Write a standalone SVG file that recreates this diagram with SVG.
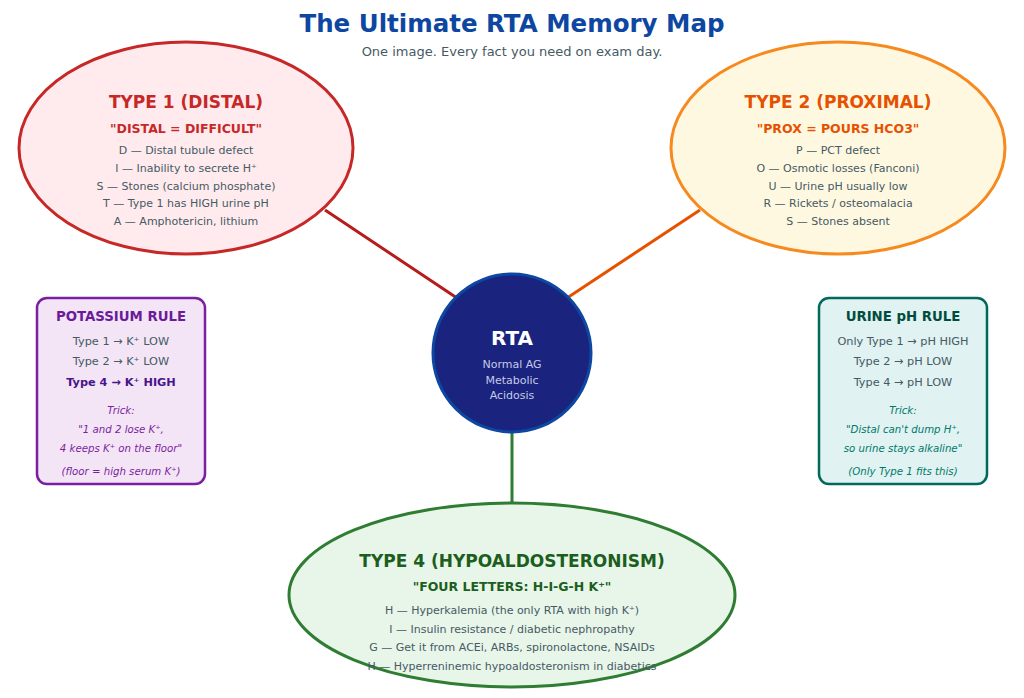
<svg xmlns="http://www.w3.org/2000/svg" width="1024" height="698" viewBox="0 0 1024 698">
<style>
text{font-family:"DejaVu Sans","Liberation Sans",sans-serif;text-anchor:middle}
.title{font-size:24.5px;font-weight:bold;fill:#0d47a1}
.sub{font-size:13px;fill:#455a64}
.h{font-size:17px;font-weight:bold}
.m{font-size:12.5px;font-weight:bold}
.l{font-size:11px;fill:#455a64}
.bt{font-size:13.3px;font-weight:bold}
.bl{font-size:11.3px;fill:#455a64}
.it{font-size:10.2px;font-style:italic}
</style>
<rect width="1024" height="698" fill="#ffffff"/>
<text class="title" x="512" y="32">The Ultimate RTA Memory Map</text>
<text class="sub" x="512" y="56">One image. Every fact you need on exam day.</text>
<g id="connectors" stroke-width="3" fill="none">
<line x1="325" y1="210" x2="457" y2="298" stroke="#b71c1c"/>
<line x1="700" y1="210" x2="567" y2="298" stroke="#e65100"/>
<line x1="512" y1="432" x2="512" y2="503" stroke="#2e7d32"/>
</g>
<g id="type1">
<ellipse cx="186" cy="148" rx="167" ry="106" fill="#ffebee" stroke="#c62828" stroke-width="3"/>
<text class="h" x="186" y="108" fill="#c62828">TYPE 1 (DISTAL)</text>
<text class="m" x="186" y="133" fill="#c62828">"DISTAL = DIFFICULT"</text>
<text class="l" x="186" y="154">D — Distal tubule defect</text>
<text class="l" x="186" y="172">I — Inability to secrete H⁺</text>
<text class="l" x="186" y="190">S — Stones (calcium phosphate)</text>
<text class="l" x="186" y="207">T — Type 1 has HIGH urine pH</text>
<text class="l" x="186" y="225">A — Amphotericin, lithium</text>
</g>
<g id="type2">
<ellipse cx="838" cy="148" rx="167" ry="106" fill="#fff8e1" stroke="#f68a1f" stroke-width="3"/>
<text class="h" x="838" y="108" fill="#e65100">TYPE 2 (PROXIMAL)</text>
<text class="m" x="838" y="133" fill="#e65100">"PROX = POURS HCO3"</text>
<text class="l" x="838" y="154">P — PCT defect</text>
<text class="l" x="838" y="172">O — Osmotic losses (Fanconi)</text>
<text class="l" x="838" y="190">U — Urine pH usually low</text>
<text class="l" x="838" y="207">R — Rickets / osteomalacia</text>
<text class="l" x="838" y="225">S — Stones absent</text>
</g>
<g id="rta">
<circle cx="512" cy="353" r="79" fill="#1a237e" stroke="#0d47a1" stroke-width="3"/>
<text x="512" y="345" font-size="20" font-weight="bold" fill="#ffffff">RTA</text>
<text class="l" x="512" y="368" style="fill:#c5cae9">Normal AG</text>
<text class="l" x="512" y="384" style="fill:#c5cae9">Metabolic</text>
<text class="l" x="512" y="399" style="fill:#c5cae9">Acidosis</text>
</g>
<g id="type4">
<ellipse cx="512" cy="595" rx="223" ry="92" fill="#e8f5e9" stroke="#2e7d32" stroke-width="3"/>
<text class="h" x="512" y="567" fill="#1b5e20">TYPE 4 (HYPOALDOSTERONISM)</text>
<text class="m" x="512" y="591" fill="#1b5e20">"FOUR LETTERS: H-I-G-H K⁺"</text>
<text class="l" x="512" y="614">H — Hyperkalemia (the only RTA with high K⁺)</text>
<text class="l" x="512" y="633">I — Insulin resistance / diabetic nephropathy</text>
<text class="l" x="512" y="651">G — Get it from ACEi, ARBs, spironolactone, NSAIDs</text>
<text class="l" x="512" y="670">H — Hyperreninemic hypoaldosteronism in diabetics</text>
</g>
<g id="potassium">
<rect x="37" y="298" width="168" height="186" rx="10" fill="#f3e5f5" stroke="#7b1fa2" stroke-width="2.5"/>
<text class="bt" x="121" y="321" fill="#6a1b9a">POTASSIUM RULE</text>
<text class="bl" x="121" y="345">Type 1 → K⁺ LOW</text>
<text class="bl" x="121" y="365">Type 2 → K⁺ LOW</text>
<text class="bl" x="121" y="386" font-weight="bold" style="fill:#4a148c">Type 4 → K⁺ HIGH</text>
<text class="it" x="121" y="414" fill="#7b1fa2">Trick:</text>
<text class="it" x="121" y="433" fill="#7b1fa2">"1 and 2 lose K⁺,</text>
<text class="it" x="121" y="452" fill="#7b1fa2">4 keeps K⁺ on the floor"</text>
<text class="it" x="121" y="475" fill="#7b1fa2">(floor = high serum K⁺)</text>
</g>
<g id="urine">
<rect x="819" y="298" width="168" height="186" rx="10" fill="#e0f2f1" stroke="#00695c" stroke-width="2.5"/>
<text class="bt" x="903" y="321" fill="#004d40">URINE pH RULE</text>
<text class="bl" x="903" y="345">Only Type 1 → pH HIGH</text>
<text class="bl" x="903" y="365">Type 2 → pH LOW</text>
<text class="bl" x="903" y="386">Type 4 → pH LOW</text>
<text class="it" x="903" y="414" fill="#00796b">Trick:</text>
<text class="it" x="903" y="433" fill="#00796b">"Distal can't dump H⁺,</text>
<text class="it" x="903" y="452" fill="#00796b">so urine stays alkaline"</text>
<text class="it" x="903" y="475" fill="#00796b">(Only Type 1 fits this)</text>
</g>
</svg>
